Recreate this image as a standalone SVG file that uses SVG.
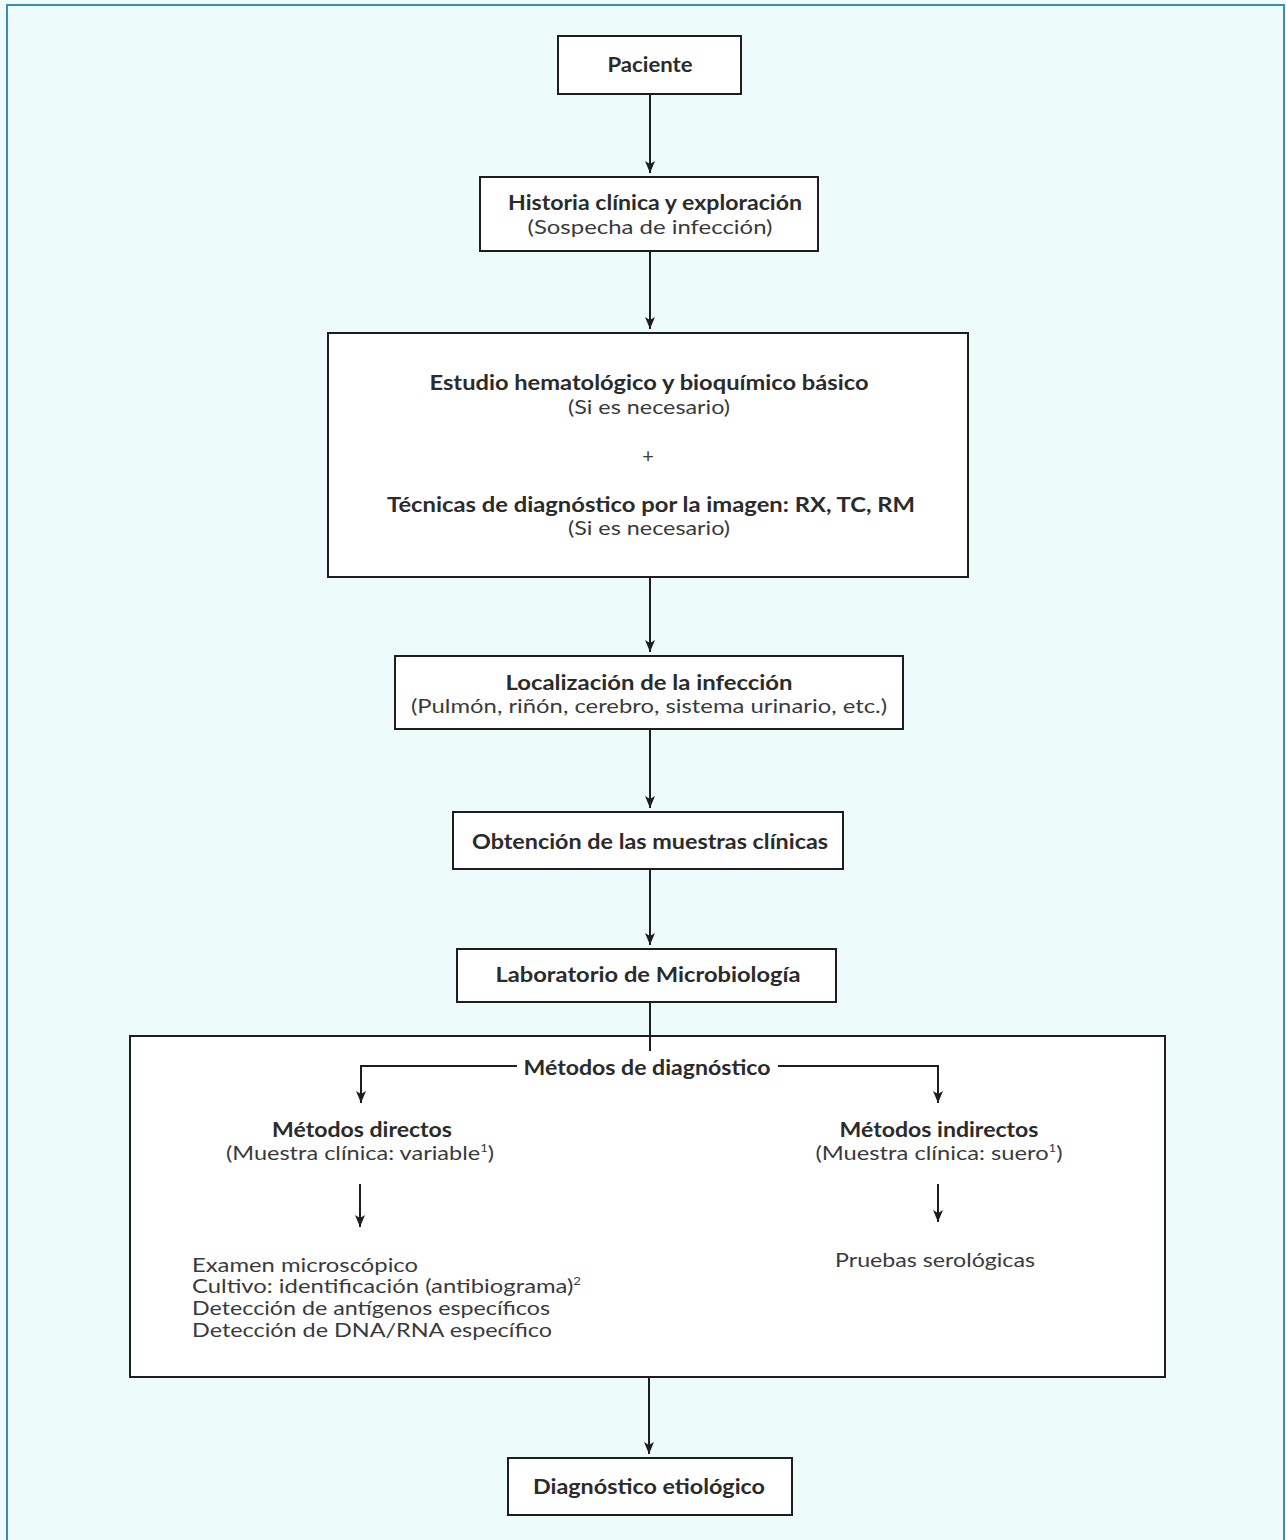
<svg xmlns="http://www.w3.org/2000/svg" width="1286" height="1540" viewBox="0 0 1286 1540">
<defs>
<style>
.node{fill:#ffffff;stroke:#1e1e1e;stroke-width:2}
.b{font-family:Lato,"Open Sans",sans-serif;font-weight:700;font-size:21px;fill:#2b2b2b;text-anchor:middle}
.r{font-family:Lato,"Open Sans",sans-serif;font-weight:400;font-size:20px;fill:#3a3a3a;text-anchor:middle}
.l{font-family:Lato,"Open Sans",sans-serif;font-weight:400;font-size:20px;fill:#3a3a3a}
.sup{font-size:11px}
.c{fill:none;stroke:#1e1e1e;stroke-width:2}
</style>
<marker id="ah" viewBox="0 0 12 10" refX="12" refY="5" markerWidth="12" markerHeight="10" markerUnits="userSpaceOnUse" orient="auto">
<path d="M0,0 L12,5 L0,10 L3,5 Z" fill="#1e1e1e"/>
</marker>
</defs>
<rect x="0" y="0" width="1286" height="1540" fill="#eefbfb"/>
<rect x="7" y="5" width="1277" height="1540" fill="none" stroke="#3a8db3" stroke-width="2"/>

<g id="paciente">
<rect class="node" x="558" y="36" width="183" height="58"/>
<text class="b" x="650" y="72" textLength="85" lengthAdjust="spacingAndGlyphs">Paciente</text>
</g>
<g id="historia">
<rect class="node" x="480" y="177" width="338" height="74"/>
<text class="b" x="655" y="210" textLength="294" lengthAdjust="spacingAndGlyphs">Historia clínica y exploración</text>
<text class="r" x="650" y="234" textLength="245" lengthAdjust="spacingAndGlyphs">(Sospecha de infección)</text>
</g>
<g id="estudio">
<rect class="node" x="328" y="333" width="640" height="244"/>
<text class="b" x="649" y="390" textLength="439" lengthAdjust="spacingAndGlyphs">Estudio hematológico y bioquímico básico</text>
<text class="r" x="649" y="414" textLength="162" lengthAdjust="spacingAndGlyphs">(Si es necesario)</text>
<text class="r" x="648" y="463">+</text>
<text class="b" x="651" y="512" textLength="528" lengthAdjust="spacingAndGlyphs">Técnicas de diagnóstico por la imagen: RX, TC, RM</text>
<text class="r" x="649" y="535" textLength="162" lengthAdjust="spacingAndGlyphs">(Si es necesario)</text>
</g>
<g id="localizacion">
<rect class="node" x="395" y="656" width="508" height="73"/>
<text class="b" x="649" y="690" textLength="287" lengthAdjust="spacingAndGlyphs">Localización de la infección</text>
<text class="r" x="649" y="713" textLength="476" lengthAdjust="spacingAndGlyphs">(Pulmón, riñón, cerebro, sistema urinario, etc.)</text>
</g>
<g id="obtencion">
<rect class="node" x="453" y="812" width="390" height="57"/>
<text class="b" x="650" y="849" textLength="356" lengthAdjust="spacingAndGlyphs">Obtención de las muestras clínicas</text>
</g>
<g id="laboratorio">
<rect class="node" x="457" y="949" width="379" height="53"/>
<text class="b" x="648" y="982" textLength="305" lengthAdjust="spacingAndGlyphs">Laboratorio de Microbiología</text>
</g>
<g id="metodos">
<rect class="node" x="130" y="1036" width="1035" height="341"/>
<text class="b" x="647" y="1075" textLength="247" lengthAdjust="spacingAndGlyphs">Métodos de diagnóstico</text>
<text class="b" x="362" y="1137" textLength="180" lengthAdjust="spacingAndGlyphs">Métodos directos</text>
<text class="r" x="360" y="1160" textLength="268" lengthAdjust="spacingAndGlyphs">(Muestra clínica: variable<tspan class="sup" dy="-8">1</tspan><tspan dy="8">)</tspan></text>
<text class="b" x="939" y="1137" textLength="199" lengthAdjust="spacingAndGlyphs">Métodos indirectos</text>
<text class="r" x="939" y="1160" textLength="247" lengthAdjust="spacingAndGlyphs">(Muestra clínica: suero<tspan class="sup" dy="-8">1</tspan><tspan dy="8">)</tspan></text>
<text class="l" x="192" y="1272" textLength="226" lengthAdjust="spacingAndGlyphs">Examen microscópico</text>
<text class="l" x="192" y="1293" textLength="389" lengthAdjust="spacingAndGlyphs">Cultivo: identificación (antibiograma)<tspan class="sup" dy="-8">2</tspan></text>
<text class="l" x="192" y="1315" textLength="358" lengthAdjust="spacingAndGlyphs">Detección de antígenos específicos</text>
<text class="l" x="192" y="1337" textLength="360" lengthAdjust="spacingAndGlyphs">Detección de DNA/RNA específico</text>
<text class="r" x="935" y="1267" textLength="200" lengthAdjust="spacingAndGlyphs">Pruebas serológicas</text>
</g>
<g id="diagnostico">
<rect class="node" x="508" y="1458" width="284" height="57"/>
<text class="b" x="649" y="1494" textLength="232" lengthAdjust="spacingAndGlyphs">Diagnóstico etiológico</text>
</g>

<g id="connectors">
<path class="c" d="M650,94 V173" marker-end="url(#ah)"/>
<path class="c" d="M650,251 V329" marker-end="url(#ah)"/>
<path class="c" d="M650,577 V652" marker-end="url(#ah)"/>
<path class="c" d="M650,729 V808" marker-end="url(#ah)"/>
<path class="c" d="M650,869 V945" marker-end="url(#ah)"/>
<path class="c" d="M650,1002 V1051"/>
<path class="c" d="M517,1066 H361 V1103" marker-end="url(#ah)"/>
<path class="c" d="M778,1066 H938 V1103" marker-end="url(#ah)"/>
<path class="c" d="M360,1184 V1227" marker-end="url(#ah)"/>
<path class="c" d="M938,1184 V1222" marker-end="url(#ah)"/>
<path class="c" d="M649,1377 V1454" marker-end="url(#ah)"/>
</g>
</svg>
